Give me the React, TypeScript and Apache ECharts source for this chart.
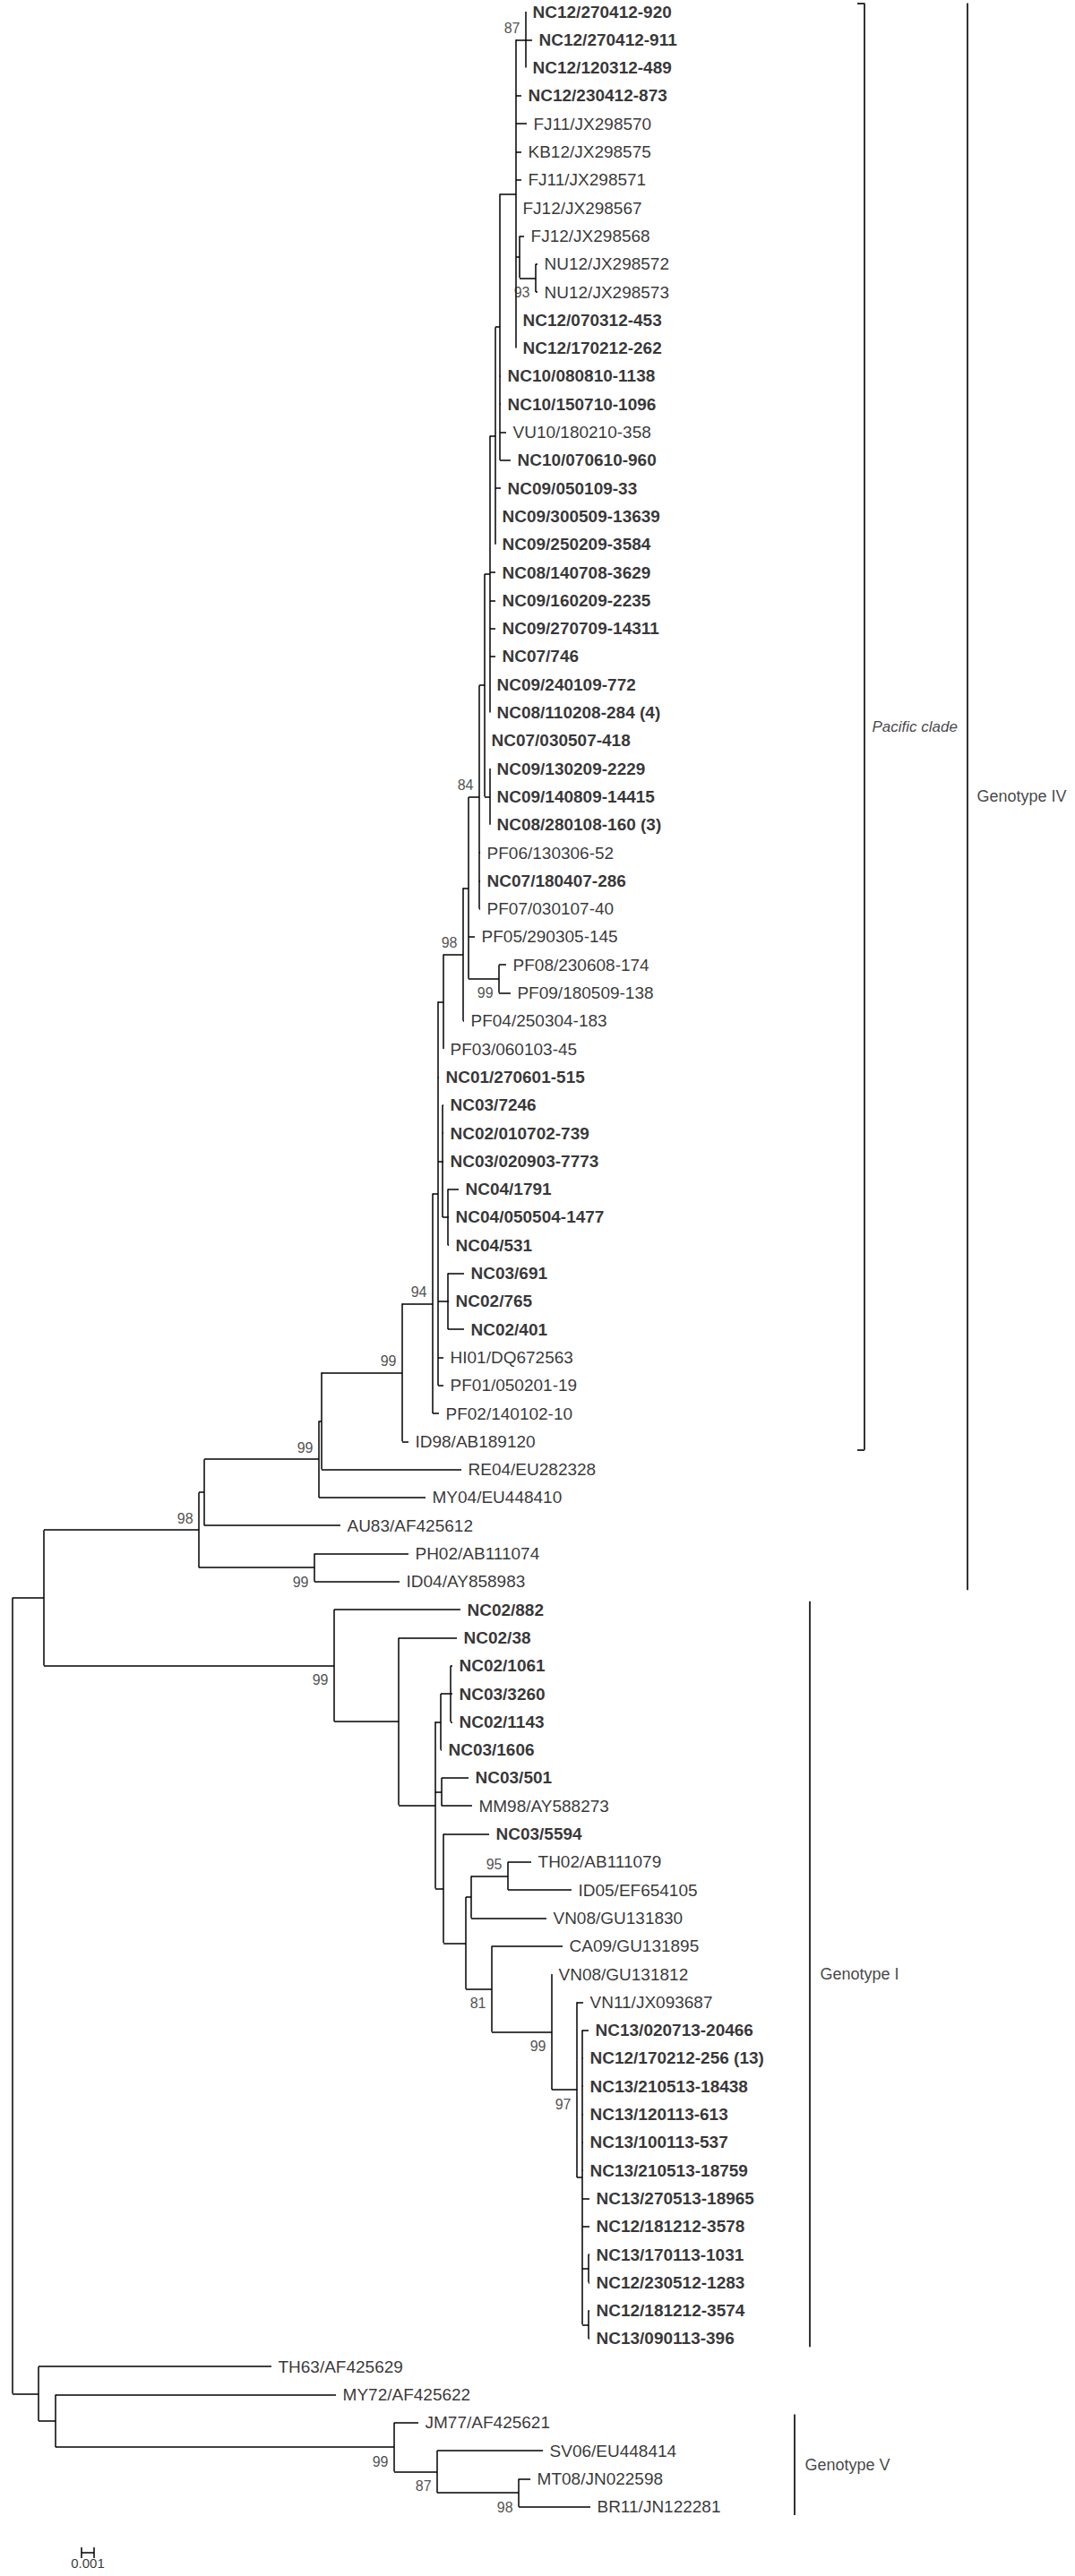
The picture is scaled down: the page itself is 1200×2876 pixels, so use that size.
import React, { useEffect, useRef } from "react";
import * as echarts from "echarts";

// ---------------- DATA ----------------
// Leaf labels, top to bottom
const LEAF_NAMES: string[] = [
  "NC12/270412-920", "NC12/270412-911", "NC12/120312-489", "NC12/230412-873", "FJ11/JX298570",
  "KB12/JX298575", "FJ11/JX298571", "FJ12/JX298567", "FJ12/JX298568", "NU12/JX298572",
  "NU12/JX298573", "NC12/070312-453", "NC12/170212-262", "NC10/080810-1138", "NC10/150710-1096",
  "VU10/180210-358", "NC10/070610-960", "NC09/050109-33", "NC09/300509-13639", "NC09/250209-3584",
  "NC08/140708-3629", "NC09/160209-2235", "NC09/270709-14311", "NC07/746", "NC09/240109-772",
  "NC08/110208-284 (4)", "NC07/030507-418", "NC09/130209-2229", "NC09/140809-14415", "NC08/280108-160 (3)",
  "PF06/130306-52", "NC07/180407-286", "PF07/030107-40", "PF05/290305-145", "PF08/230608-174",
  "PF09/180509-138", "PF04/250304-183", "PF03/060103-45", "NC01/270601-515", "NC03/7246",
  "NC02/010702-739", "NC03/020903-7773", "NC04/1791", "NC04/050504-1477", "NC04/531",
  "NC03/691", "NC02/765", "NC02/401", "HI01/DQ672563", "PF01/050201-19",
  "PF02/140102-10", "ID98/AB189120", "RE04/EU282328", "MY04/EU448410", "AU83/AF425612",
  "PH02/AB111074", "ID04/AY858983", "NC02/882", "NC02/38", "NC02/1061",
  "NC03/3260", "NC02/1143", "NC03/1606", "NC03/501", "MM98/AY588273",
  "NC03/5594", "TH02/AB111079", "ID05/EF654105", "VN08/GU131830", "CA09/GU131895",
  "VN08/GU131812", "VN11/JX093687", "NC13/020713-20466", "NC12/170212-256 (13)", "NC13/210513-18438",
  "NC13/120113-613", "NC13/100113-537", "NC13/210513-18759", "NC13/270513-18965", "NC12/181212-3578",
  "NC13/170113-1031", "NC12/230512-1283", "NC12/181212-3574", "NC13/090113-396", "TH63/AF425629",
  "MY72/AF425622", "JM77/AF425621", "SV06/EU448414", "MT08/JN022598", "BR11/JN122281",
];

// Distance of each leaf tip from the root (units of 0.001 substitutions/site)
const LEAF_DEPTHS: number[] = [
  40.93, 41.43, 40.93, 40.57, 41.0,
  40.57, 40.57, 40.14, 40.79, 41.86,
  41.86, 40.14, 40.14, 38.93, 38.93,
  39.36, 39.71, 38.93, 38.5, 38.5,
  38.5, 38.5, 38.5, 38.5, 38.07,
  38.07, 37.64, 38.07, 38.07, 38.07,
  37.29, 37.29, 37.29, 36.86, 39.36,
  39.71, 36.0, 34.36, 34.0, 34.36,
  34.36, 34.36, 35.57, 34.79, 34.79,
  36.0, 34.79, 36.0, 34.36, 34.36,
  34.0, 31.57, 35.79, 32.93, 26.14,
  31.57, 30.86, 35.71, 35.43, 35.07,
  35.07, 35.07, 34.21, 36.36, 36.64,
  38.0, 41.36, 44.57, 42.57, 43.86,
  43.0, 45.5, 45.93, 45.5, 45.5,
  45.5, 45.5, 45.5, 46.0, 46.0,
  46.0, 46.0, 46.0, 46.0, 20.64,
  25.79, 32.36, 42.29, 41.29, 46.07,
];

// Internal nodes: [id, depth from root (0.001 subst./site), children top->bottom (leaf index or node id)]
const NODES: [string, number, (number | string)[]][] = [
  ["root", 0, ["U", "KK"]],
  ["U", 2.5, ["S", "V"]],
  ["S", 14.86, ["R", "T"]],
  ["R", 15.29, ["Q", 54]],
  ["Q", 24.43, ["P", 53]],
  ["P", 24.64, ["A99", 52]],
  ["A99", 31.07, ["N94", 51]],
  ["N94", 33.5, ["K", 50]],
  ["K", 33.93, ["J", 38, "M", "G691", 48, 49]],
  ["J", 34.36, ["I", 37]],
  ["I", 35.93, ["H", 36]],
  ["H", 36.36, ["G", 33, "B99"]],
  ["B99", 38.79, [34, 35]],
  ["G", 37.21, ["E", 30, 31, 32]],
  ["E", 37.64, ["D", 26, "F"]],
  ["F", 38.07, [27, 28, 29]],
  ["D", 38.07, ["C", 20, 21, 22, 23, 24, 25]],
  ["C", 38.5, ["B", 17, 18, 19]],
  ["B", 38.86, ["Ntop", 13, 14, 15, 16]],
  ["Ntop", 40.14, ["N87", 3, 4, 5, 6, 7, "NA", 11, 12]],
  ["N87", 40.93, [0, 1, 2]],
  ["NA", 40.43, [8, "N93"]],
  ["N93", 41.71, [9, 10]],
  ["M", 34.29, [39, 40, 41, "G04"]],
  ["G04", 34.71, [42, 43, 44]],
  ["G691", 34.71, [45, 46, 47]],
  ["T", 24.07, [55, 56]],
  ["V", 25.64, [57, "W"]],
  ["W", 30.79, [58, "X"]],
  ["X", 33.71, ["Y", "Z", "AA"]],
  ["Y", 34.14, ["Y2", 62]],
  ["Y2", 34.93, [59, 60, 61]],
  ["Z", 34.21, [63, 64]],
  ["AA", 34.36, [65, "CC"]],
  ["CC", 36.14, ["DD", "EE"]],
  ["DD", 36.57, ["N95", 68]],
  ["N95", 39.5, [66, 67]],
  ["EE", 38.21, [69, "FF"]],
  ["FF", 43.0, [70, "GG"]],
  ["GG", 45.0, [71, "HH"]],
  ["HH", 45.43, [72, 73, 74, 75, 76, 77, 78, 79, "II", "JJ"]],
  ["II", 45.93, [80, 81]],
  ["JJ", 45.93, [82, 83]],
  ["KK", 2.07, [84, "LL"]],
  ["LL", 3.43, [85, "MM"]],
  ["MM", 30.43, [86, "NN"]],
  ["NN", 33.86, [87, "OO"]],
  ["OO", 40.36, [88, 89]],
];

// Bootstrap support values
const SUPPORT_NODES: string[] = ["N87", "N93", "G", "I", "B99", "N94", "A99", "Q", "S", "T", "V", "N95", "EE", "FF", "GG", "MM", "NN", "OO"];
const SUPPORT_VALUES: number[] = [87, 93, 84, 98, 99, 94, 99, 99, 98, 99, 99, 95, 81, 99, 97, 99, 87, 98];
const SUPPORT_BELOW: string[] = ["N93", "B99", "T", "V", "EE", "FF", "GG", "MM", "NN", "OO"];

// Clade annotations
const CLADE_NAMES: string[] = ["Pacific clade", "Genotype IV", "Genotype I", "Genotype V"];
const CLADE_FIRST: number[] = [0, 0, 57, 86];
const CLADE_LAST: number[] = [51, 56, 83, 89];

const SCALE_BAR_LABEL = "0.001";
const SCALE_BAR_LENGTH = 1; // in 0.001 units

// ---------------- LAYOUT (pixels) ----------------
const W = 1200;
const H = 2876;
const ROOT_PX = 14;
const UNIT_PX = 14;
const FIRST_ROW_PX = 13;
const ROW_PX = 31.3;
const CLADE_X_PX = [965, 1080, 904, 887];
const CLADE_TEXT_GAP = [8, 10, 11, 11];
const SCALE_BAR_X_PX = 91;
const SCALE_BAR_Y_PX = 2850;

const pxToX = (px: number) => (px - ROOT_PX) / UNIT_PX;
const pxToRow = (px: number) => (px - FIRST_ROW_PX) / ROW_PX;

const FONT = "'Liberation Sans', Arial, Helvetica, sans-serif";

function buildOption() {
  const nodeMap = new Map<string, [string, number, (number | string)[]]>();
  NODES.forEach((n) => nodeMap.set(n[0], n));
  const memo: Record<string, number> = {};
  const yOf = (c: number | string): number => {
    if (typeof c === "number") return c;
    if (memo[c] !== undefined) return memo[c];
    const ch = nodeMap.get(c)![2];
    const y = (yOf(ch[0]) + yOf(ch[ch.length - 1])) / 2;
    memo[c] = y;
    return y;
  };
  const depthOf = (c: number | string): number =>
    typeof c === "number" ? LEAF_DEPTHS[c] : nodeMap.get(c)![1];

  const treeSegs: any[] = [];
  NODES.forEach(([id, d, ch]) => {
    treeSegs.push({ coords: [[d, yOf(ch[0])], [d, yOf(ch[ch.length - 1])]] });
    ch.forEach((c) => {
      const y = yOf(c);
      treeSegs.push({ coords: [[d, y], [depthOf(c), y]] });
    });
  });

  const leafData = LEAF_NAMES.map((name, i) => ({
    value: [LEAF_DEPTHS[i], i],
    name,
    label: { fontWeight: name.startsWith("NC") ? "bold" : "normal" },
  }));

  const supportData = SUPPORT_NODES.map((id, i) => {
    const below = SUPPORT_BELOW.includes(id);
    return {
      value: [nodeMap.get(id)![1], yOf(id)],
      name: String(SUPPORT_VALUES[i]),
      label: { offset: [0, below ? 16 : -13] },
    };
  });

  const cladeSegs: any[] = [];
  const cladeText: any[] = [];
  CLADE_NAMES.forEach((name, i) => {
    const x = pxToX(CLADE_X_PX[i]);
    const y0 = CLADE_FIRST[i] - 0.3;
    const y1 = CLADE_LAST[i] + 0.3;
    cladeSegs.push({ coords: [[x, y0], [x, y1]] });
    if (i === 0) {
      const tick = 8 / UNIT_PX;
      cladeSegs.push({ coords: [[x - tick, y0], [x, y0]] });
      cladeSegs.push({ coords: [[x - tick, y1], [x, y1]] });
    }
    cladeText.push({
      value: [x, (CLADE_FIRST[i] + CLADE_LAST[i]) / 2],
      name,
      label: {
        distance: CLADE_TEXT_GAP[i],
        fontStyle: i === 0 ? "italic" : "normal",
        fontSize: i === 0 ? 17 : 18,
      },
    });
  });

  const sbx0 = pxToX(SCALE_BAR_X_PX);
  const sbx1 = sbx0 + SCALE_BAR_LENGTH;
  const sby = pxToRow(SCALE_BAR_Y_PX);
  const tk = 6 / ROW_PX;
  const scaleSegs = [
    { coords: [[sbx0, sby], [sbx1, sby]] },
    { coords: [[sbx0, sby - tk], [sbx0, sby + tk]] },
    { coords: [[sbx1, sby - tk], [sbx1, sby + tk]] },
  ];

  return {
    animation: false,
    backgroundColor: "#ffffff",
    grid: { left: 0, right: 0, top: 0, bottom: 0 },
    xAxis: { type: "value", min: pxToX(0), max: pxToX(W), show: false },
    yAxis: { type: "value", min: pxToRow(0), max: pxToRow(H), inverse: true, show: false },
    series: [
      {
        type: "lines",
        coordinateSystem: "cartesian2d",
        silent: true,
        data: treeSegs,
        lineStyle: { color: "#000", width: 1.5, opacity: 1 },
      },
      {
        type: "lines",
        coordinateSystem: "cartesian2d",
        silent: true,
        data: cladeSegs,
        lineStyle: { color: "#333", width: 2, opacity: 1 },
      },
      {
        type: "lines",
        coordinateSystem: "cartesian2d",
        silent: true,
        data: scaleSegs,
        lineStyle: { color: "#000", width: 1.5, opacity: 1 },
      },
      {
        type: "scatter",
        silent: true,
        symbolSize: 1,
        itemStyle: { color: "rgba(0,0,0,0)" },
        data: leafData,
        label: {
          show: true,
          position: "right",
          distance: 7,
          formatter: (p: any) => p.name,
          fontSize: 19,
          fontFamily: FONT,
          color: "#000",
        },
      },
      {
        type: "scatter",
        silent: true,
        symbolSize: 1,
        itemStyle: { color: "rgba(0,0,0,0)" },
        data: supportData,
        label: {
          show: true,
          position: "left",
          distance: 6,
          formatter: (p: any) => p.name,
          fontSize: 16,
          fontFamily: FONT,
          color: "#222",
        },
      },
      {
        type: "scatter",
        silent: true,
        symbolSize: 1,
        itemStyle: { color: "rgba(0,0,0,0)" },
        data: cladeText,
        label: {
          show: true,
          position: "right",
          formatter: (p: any) => p.name,
          fontFamily: FONT,
          color: "#111",
        },
      },
      {
        type: "scatter",
        silent: true,
        symbolSize: 1,
        itemStyle: { color: "rgba(0,0,0,0)" },
        data: [{ value: [(sbx0 + sbx1) / 2, sby], name: SCALE_BAR_LABEL }],
        label: {
          show: true,
          position: "bottom",
          distance: 3,
          formatter: (p: any) => p.name,
          fontSize: 15,
          lineHeight: 16,
          fontFamily: FONT,
          color: "#000",
        },
      },
    ],
  };
}

export default function App() {
  const ref = useRef<HTMLDivElement>(null);
  useEffect(() => {
    if (!ref.current) return;
    const chart = echarts.init(ref.current, undefined, { renderer: "svg" });
    chart.setOption(buildOption() as any);
    return () => chart.dispose();
  }, []);
  return (
    <div
      ref={ref}
      style={{ position: "absolute", left: 0, top: 0, width: W, height: H, background: "#fff" }}
    />
  );
}
